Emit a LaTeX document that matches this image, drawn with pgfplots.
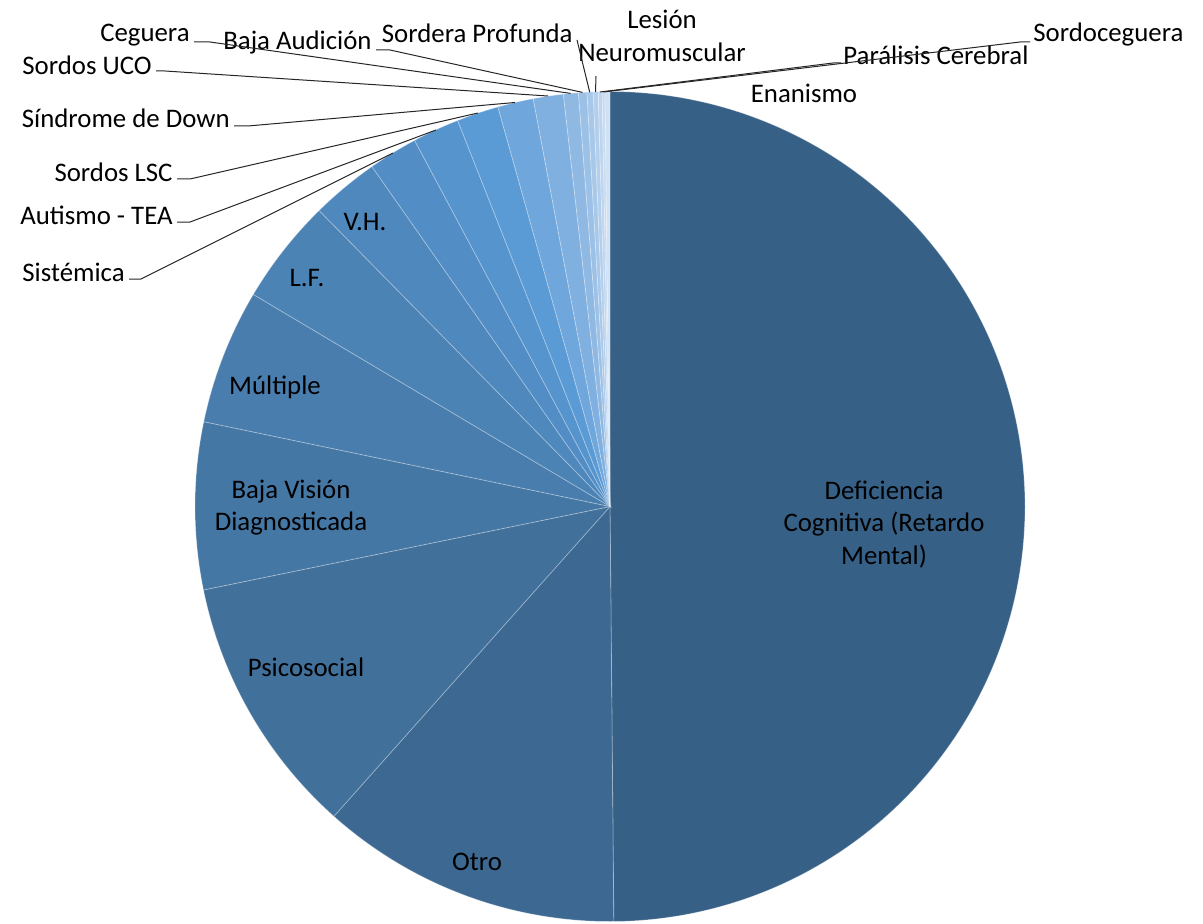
\documentclass[border=0pt]{standalone}
\usepackage{pgfplots}
\pgfplotsset{compat=1.18}
\usepackage{pgfplotstable}
\usepackage{fontspec}
\setmainfont{Carlito}

\definecolor{s0}{RGB}{55,96,135}
\definecolor{s1}{RGB}{60,104,145}
\definecolor{s2}{RGB}{65,112,155}
\definecolor{s3}{RGB}{69,119,164}
\definecolor{s4}{RGB}{73,125,173}
\definecolor{s5}{RGB}{76,131,181}
\definecolor{s6}{RGB}{79,136,189}
\definecolor{s7}{RGB}{82,141,197}
\definecolor{s8}{RGB}{86,148,205}
\definecolor{s9}{RGB}{91,155,213}
\definecolor{s10}{RGB}{111,166,219}
\definecolor{s11}{RGB}{128,176,223}
\definecolor{s12}{RGB}{143,185,227}
\definecolor{s13}{RGB}{156,193,230}
\definecolor{s14}{RGB}{168,200,233}
\definecolor{s15}{RGB}{179,207,236}
\definecolor{s16}{RGB}{189,213,238}
\definecolor{s17}{RGB}{199,219,241}
\definecolor{s18}{RGB}{208,225,243}

% percentages, clockwise from 12 o'clock
\pgfplotstableread{
id value color
DeficienciaCognitiva 49.85 s0
Otro 11.73 s1
Psicosocial 10.19 s2
BajaVision 6.50 s3
Multiple 5.26 s4
LF 4.10 s5
VH 2.64 s6
Sistemica 1.92 s7
Autismo 1.82 s8
SordosLSC 1.63 s9
SindromeDown 1.39 s10
SordosUCO 1.17 s11
Ceguera 0.58 s12
BajaAudicion 0.33 s13
SorderaProfunda 0.24 s14
LesionNeuromuscular 0.19 s15
ParalisisCerebral 0.15 s16
Sordoceguera 0.11 s17
Enanismo 0.19 s18
}\pietable

\begin{document}
\begin{tikzpicture}
\begin{axis}[x=0.5pt, y=0.5pt, xmin=0, xmax=1203, ymin=0, ymax=923,
  hide axis, scale only axis, clip=false]
\pgfplotstablegetrowsof{\pietable}
\pgfmathtruncatemacro\nrows{\pgfplotsretval-1}
\def\total{0}
\pgfplotsforeachungrouped \i in {0,...,\nrows}{%
  \pgfplotstablegetelem{\i}{value}\of\pietable
  \pgfmathsetmacro\total{\total+\pgfplotsretval}%
}
\def\cum{0}
\pgfplotsforeachungrouped \i in {0,...,\nrows}{%
  \pgfplotstablegetelem{\i}{value}\of\pietable
  \pgfmathsetmacro\sa{\cum}%
  \pgfmathsetmacro\sb{\cum+360*(\pgfplotsretval/\total)}%
  \pgfmathtruncatemacro\ns{max(3,(\sb-\sa)*2+2)}%
  \pgfplotstablegetelem{\i}{color}\of\pietable
  \edef\col{\pgfplotsretval}%
  \edef\doslice{\noexpand\addplot[fill=\col, draw=white, draw opacity=0.3,
     line width=0.4pt, domain=\sa:\sb, samples=\ns, variable=\noexpand\t]
     ({610+415*sin(\noexpand\t)},{416.5+415*cos(\noexpand\t)}) -- (610,416.5) -- cycle;}%
  \doslice
  \global\let\cum\sb
}

% inside labels
\tikzset{lab/.style={font=\fontsize{13.4}{16.25}\selectfont, text=black, inner sep=0pt, align=center}}
\node[lab] at (884,398.5) {Deficiencia\\Cognitiva (Retardo\\Mental)};
\node[lab] at (477,61) {Otro};
\node[lab] at (306,256) {Psicosocial};
\node[lab] at (291,415.5) {Baja Visión\\Diagnosticada};
\node[lab] at (275,536) {Múltiple};
\node[lab] at (307,645) {L.F.};
\node[lab] at (365,701) {V.H.};

% outside labels
\node[lab, anchor=east] at (125,651) {Sistémica};
\node[lab, anchor=east] at (173,708) {Autismo - TEA};
\node[lab, anchor=east] at (173,751) {Sordos LSC};
\node[lab, anchor=east] at (230,805) {Síndrome de Down};
\node[lab, anchor=east] at (152,858) {Sordos UCO};
\node[lab, anchor=east] at (190,888) {Ceguera};
\node[lab, anchor=east] at (372,881) {Baja Audición};
\node[lab, anchor=east] at (573,890) {Sordera Profunda};
\node[lab] at (662,887) {Lesión\\Neuromuscular};
\node[lab, anchor=west] at (843,868) {Parálisis Cerebral};
\node[lab, anchor=west] at (1033,888) {Sordoceguera};
\node[lab] at (804,830) {Enanismo};

% leader lines
\tikzset{ld/.style={draw=black!85, line width=0.5pt}}
\draw[ld] (129,644) -- (141,644) -- (393,770);
\draw[ld] (177,701) -- (190,701) -- (436,793);
\draw[ld] (177,744) -- (190,744) -- (478,810);
\draw[ld] (234,797) -- (248,797) -- (515,820.5);
\draw[ld] (156,852) -- (165,852) -- (548,827);
\draw[ld] (194,881) -- (210,881) -- (570.6,829.6);
\draw[ld] (376,873) -- (390,873) -- (582.5,830.6);
\draw[ld] (577,883) -- (589.7,830.8);
\draw[ld] (596,847) -- (595.5,831);
\draw[ld] (600,831) -- (833,860) -- (841,860);
\draw[ld] (603.5,831) -- (1020,881) -- (1030,881);
\end{axis}
\pgfresetboundingbox
\path (0,0) rectangle (601.5pt,461.5pt);
\end{tikzpicture}
\end{document}
